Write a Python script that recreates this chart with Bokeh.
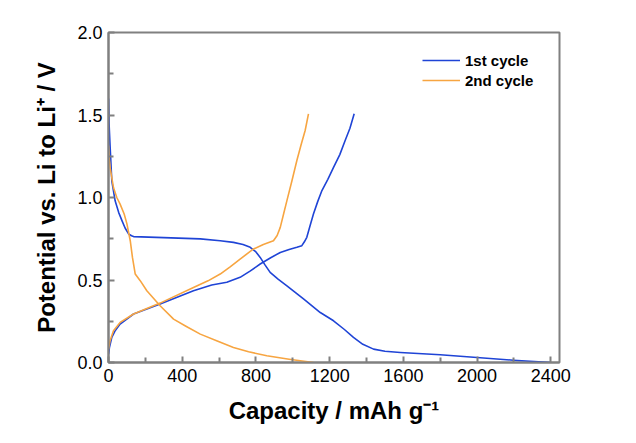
from bokeh.plotting import figure
from bokeh.models import FixedTicker, PrintfTickFormatter, Legend, LegendItem, Range1d
from bokeh.embed import file_html
from bokeh.resources import INLINE

# 1st cycle discharge (blue)
c1_dis_x = [0, 3, 9, 18, 36, 55, 73, 90, 109, 125, 136, 300, 498, 606, 678, 730, 769, 800, 823,
            850, 877, 920, 968, 1058, 1149, 1221, 1280, 1329, 1380, 1438, 1500, 1583, 1800, 1999,
            2197, 2400]
c1_dis_y = [1.60, 1.45, 1.305, 1.10, 0.98, 0.91, 0.86, 0.815, 0.779, 0.768, 0.763, 0.757, 0.749,
            0.738, 0.728, 0.715, 0.698, 0.67, 0.637, 0.59, 0.546, 0.505, 0.465, 0.385, 0.303,
            0.253, 0.20, 0.152, 0.11, 0.081, 0.068, 0.061, 0.047, 0.030, 0.014, 0.0]
# 1st cycle charge (blue)
c1_chg_x = [0, 5, 18, 35, 63, 136, 280, 461, 560, 642, 714, 770, 823, 880, 932, 980, 1022, 1049,
            1062, 1076, 1094, 1112, 1135, 1158, 1190, 1221, 1255, 1284, 1310, 1333]
c1_chg_y = [0.05, 0.09, 0.152, 0.19, 0.233, 0.294, 0.354, 0.435, 0.47, 0.486, 0.516, 0.555, 0.597,
            0.635, 0.667, 0.685, 0.698, 0.708, 0.73, 0.759, 0.83, 0.90, 0.975, 1.042, 1.11, 1.183,
            1.26, 1.345, 1.42, 1.507]
# 2nd cycle discharge (orange)
c2_dis_x = [0, 4, 9, 27, 45, 63, 85, 100, 118, 130, 145, 172, 208, 280, 353, 420, 498, 590, 678,
            760, 859, 980, 1112]
c2_dis_y = [1.315, 1.24, 1.18, 1.06, 1.0, 0.96, 0.90, 0.84, 0.738, 0.637, 0.536, 0.496, 0.435,
            0.344, 0.263, 0.22, 0.172, 0.13, 0.091, 0.065, 0.041, 0.02, 0.0]
# 2nd cycle charge (orange)
c2_chg_x = [0, 8, 27, 63, 136, 280, 461, 540, 606, 660, 714, 787, 840, 895, 915, 932, 950, 968,
            995, 1022, 1045, 1067, 1085]
c2_chg_y = [0.08, 0.13, 0.192, 0.243, 0.294, 0.36, 0.455, 0.495, 0.536, 0.58, 0.627, 0.688, 0.715,
            0.738, 0.77, 0.819, 0.90, 0.981, 1.10, 1.224, 1.32, 1.406, 1.507]

x_ticks = [0, 400, 800, 1200, 1600, 2000, 2400]
x_minor = [200, 600, 1000, 1400, 1800, 2200]
y_ticks = [0.0, 0.5, 1.0, 1.5, 2.0]
y_minor = [0.25, 0.75, 1.25, 1.75]

blue = "#1f44d6"
orange = "#f7a541"
gray = "#808080"
font = "Liberation Sans"

p = figure(width=628, height=435, output_backend="svg", toolbar_location=None,
           x_range=Range1d(0, 2447), y_range=Range1d(0, 2.0),
           min_border_left=108, min_border_right=69, min_border_top=32, min_border_bottom=73)

r1 = p.line(c1_dis_x, c1_dis_y, line_color=blue, line_width=1.6, line_join="round")
p.line(c1_chg_x, c1_chg_y, line_color=blue, line_width=1.6, line_join="round")
r2 = p.line(c2_dis_x, c2_dis_y, line_color=orange, line_width=1.6, line_join="round")
p.line(c2_chg_x, c2_chg_y, line_color=orange, line_width=1.6, line_join="round")

p.grid.visible = False
p.outline_line_color = gray
p.outline_line_width = 2
p.background_fill_color = "white"
p.border_fill_color = "white"

p.xaxis.ticker = FixedTicker(ticks=x_ticks, minor_ticks=x_minor)
p.yaxis.ticker = FixedTicker(ticks=y_ticks, minor_ticks=y_minor)
p.yaxis.formatter = PrintfTickFormatter(format="%.1f")

for ax in (p.xaxis[0], p.yaxis[0]):
    ax.axis_line_color = gray
    ax.axis_line_width = 2
    ax.major_tick_line_color = gray
    ax.minor_tick_line_color = gray
    ax.major_tick_line_width = 2
    ax.minor_tick_line_width = 2
    ax.major_tick_in = 6
    ax.major_tick_out = 0
    ax.minor_tick_in = 5
    ax.minor_tick_out = 0
    ax.major_label_text_font = font
    ax.major_label_text_font_size = "18px"
    ax.major_label_text_color = "black"
    ax.axis_label_text_font = font
    ax.axis_label_text_font_size = "24px"
    ax.axis_label_text_font_style = "bold"
    ax.axis_label_text_color = "black"

p.xaxis.axis_label = "Capacity / mAh g\u207b\u00b9"
p.yaxis.axis_label = "Potential vs. Li to Li\u207a / V"
p.xaxis.major_label_standoff = 6
p.yaxis.major_label_standoff = 6
p.xaxis.axis_label_standoff = 12
p.yaxis.axis_label_standoff = 14

legend = Legend(items=[LegendItem(label="1st cycle", renderers=[r1]),
                       LegendItem(label="2nd cycle", renderers=[r2])],
                location=(314, 272), orientation="vertical")
legend.border_line_color = None
legend.background_fill_alpha = 0
legend.padding = 0
legend.margin = 0
legend.spacing = 0
legend.glyph_width = 38
legend.glyph_height = 20
legend.label_height = 20
legend.label_standoff = 5
legend.label_text_font = font
legend.label_text_font_size = "15px"
legend.label_text_font_style = "bold"
legend.label_text_color = "black"
p.add_layout(legend)

open("out.html", "w").write(file_html(p, INLINE))
